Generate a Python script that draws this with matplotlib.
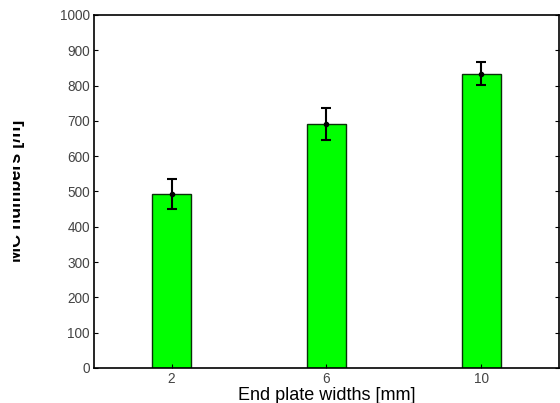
import matplotlib.pyplot as plt
from matplotlib.patches import Rectangle

plt.rcParams['font.family'] = ['Liberation Sans', 'DejaVu Sans']

widths = [2, 6, 10]
mc_numbers = [492, 690, 834]
errors = [43, 45, 32]
tick_labels = ['2', '6', '10']

fig = plt.figure(figsize=(5.6, 4.03), dpi=100)
ax = fig.add_axes([0.168, 0.087, 0.830, 0.876])

ax.bar(widths, mc_numbers, width=1.0, color='#00ff00', edgecolor='#0a300a', linewidth=1.0)
ax.errorbar(widths, mc_numbers, yerr=errors, fmt='o', color='black', markersize=3,
            capsize=3.5, elinewidth=1.5, capthick=1.5)

ax.set_xlim(0, 12)
ax.set_ylim(0, 1000)
ax.set_yticks(range(0, 1001, 100))
ax.set_xticks(widths)
ax.set_xticklabels(tick_labels)
ax.tick_params(direction='in', length=3, labelsize=9.8, labelcolor='#444444',
               top=False, right=True, width=0.8, pad=3)
for s in ax.spines.values():
    s.set_linewidth(1.2)

ax.set_xlabel('End plate widths [mm]', fontsize=13, labelpad=1)

# y label, partly cut off at the left edge as in the original image
fig.text(0.029, 0.526, 'MC numbers [/h]', rotation=90, fontsize=13,
         fontweight='bold', ha='center', va='center')
fig.patches.append(Rectangle((0, 0), 0.024, 1, transform=fig.transFigure,
                             facecolor='white', edgecolor='none', zorder=10))

fig.savefig('out.png', dpi=100)
